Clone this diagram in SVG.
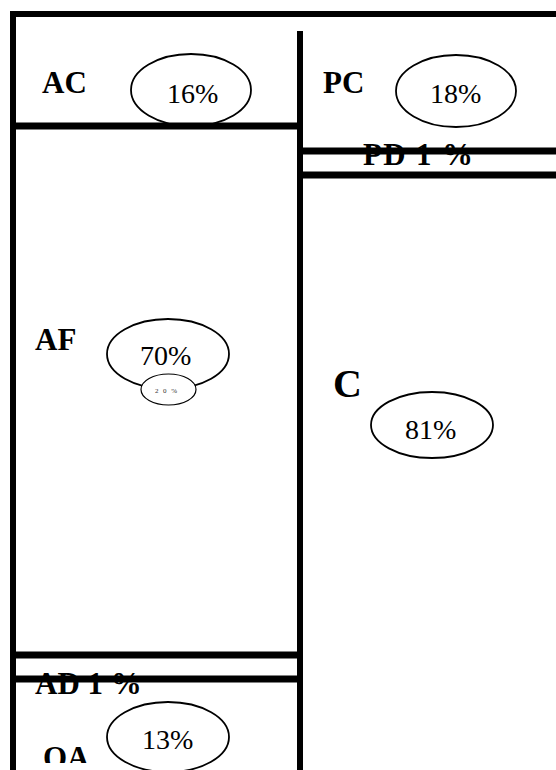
<svg xmlns="http://www.w3.org/2000/svg" width="556" height="770" viewBox="0 0 556 770">
<defs>
<style>
.lab{font-family:"Liberation Serif","Times New Roman",serif;font-weight:bold;font-size:31px;fill:#000}
.pct{font-family:"Liberation Serif","Times New Roman",serif;font-size:28px;fill:#000}
.ell{fill:#fff;stroke:#000;stroke-width:1.8}
.wall{stroke:#000;fill:none}
</style>
<clipPath id="clipBottom"><rect x="0" y="0" width="556" height="763"/></clipPath>
</defs>
<rect width="556" height="770" fill="#fff"/>
<g id="AC">
<ellipse class="ell" cx="191" cy="90" rx="60" ry="36"/>
<text class="lab" x="42" y="93">AC</text>
<text class="pct" x="167" y="103">16%</text>
</g>
<g id="PC">
<ellipse class="ell" cx="456" cy="91" rx="60" ry="36"/>
<text class="lab" x="323" y="93">PC</text>
<text class="pct" x="430" y="103">18%</text>
</g>
<g id="PD">
<text class="lab" x="363" y="165" textLength="110" lengthAdjust="spacing">PD 1 %</text>
</g>
<g id="AF">
<ellipse class="ell" cx="168" cy="354" rx="61" ry="35"/>
<text class="lab" x="35" y="350">AF</text>
<text class="pct" x="140" y="365">70%</text>
<ellipse class="ell" cx="168.5" cy="389.5" rx="27.5" ry="15.5" style="stroke-width:1.2"/>
<text x="155" y="393" font-family="Liberation Serif, serif" font-size="7" fill="#333" textLength="22" lengthAdjust="spacing">2 0 %</text>
</g>
<g id="C">
<ellipse class="ell" cx="432" cy="425" rx="61" ry="33"/>
<text class="lab" x="333" y="397" style="font-size:40px">C</text>
<text class="pct" x="405" y="439">81%</text>
</g>
<g id="AD">
<text class="lab" x="35" y="694">AD 1 %</text>
</g>
<g id="QA">
<ellipse class="ell" cx="168" cy="737" rx="61" ry="35"/>
<text class="pct" x="142" y="749">13%</text>
<text class="lab" x="43" y="768" clip-path="url(#clipBottom)">QA</text>
</g>
<g id="connectors">
<line class="wall" x1="10" y1="14" x2="556" y2="14" stroke-width="6"/>
<line class="wall" x1="13" y1="11" x2="13" y2="770" stroke-width="6"/>
<line class="wall" x1="300" y1="31" x2="300" y2="770" stroke-width="6"/>
<line class="wall" x1="10" y1="126" x2="300" y2="126" stroke-width="7"/>
<line class="wall" x1="300" y1="151" x2="556" y2="151" stroke-width="7"/>
<line class="wall" x1="300" y1="175" x2="556" y2="175" stroke-width="7"/>
<line class="wall" x1="10" y1="655" x2="300" y2="655" stroke-width="7"/>
<line class="wall" x1="10" y1="679" x2="300" y2="679" stroke-width="7"/>
</g>
</svg>
